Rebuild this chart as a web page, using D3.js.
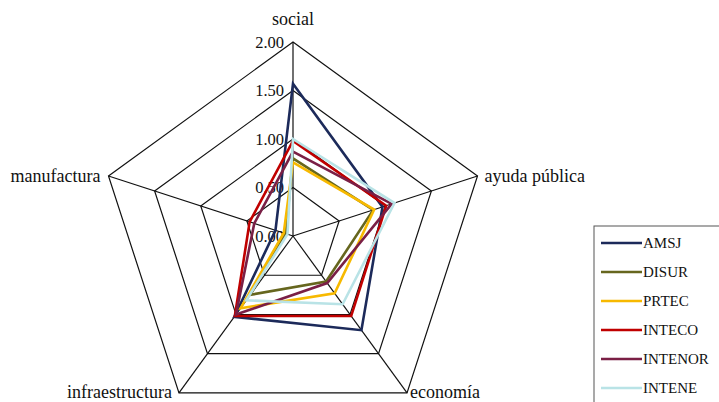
<!DOCTYPE html>
<html>
<head>
<meta charset="utf-8">
<script src="https://cdn.jsdelivr.net/npm/d3@7"></script>
<style>
  html, body { margin: 0; padding: 0; background: #fff; }
  svg { display: block; }
  svg text { font-family: "Liberation Serif", Tinos, "Times New Roman", "DejaVu Serif", serif; }
</style>
</head>
<body>
<svg id="chart" width="719" height="402"></svg>
<script>
// Radar axes, clockwise from the top
const axes = ["social", "ayuda pública", "economía", "infraestructura", "manufactura"];
const ticks = [0, 0.5, 1, 1.5, 2];
const tickLabels = ["0.00", "0.50", "1.00", "1.50", "2.00"];

// Series values per axis (same order as axes)
const seriesNames = ["AMSJ", "DISUR", "PRTEC", "INTECO", "INTENOR", "INTENE"];
const AMSJ    = [1.57, 0.97, 1.20, 1.03, 0.19];
const DISUR   = [0.80, 0.87, 0.58, 0.75, 0.08];
const PRTEC   = [0.76, 0.88, 0.73, 0.92, 0.10];
const INTECO  = [0.98, 1.01, 1.02, 1.02, 0.47];
const INTENOR = [0.87, 1.07, 0.60, 1.00, 0.42];
const INTENE  = [1.00, 1.10, 0.87, 0.82, 0.06];
const seriesValues = [AMSJ, DISUR, PRTEC, INTECO, INTENOR, INTENE];
const seriesColors = ["#1c2a5a", "#66661e", "#f7b900", "#c00000", "#7a1f45", "#b9e3e6"];

const svg = d3.select("#chart");
const cx = 293, cy = 236, R = 194;

const r = d3.scaleLinear().domain([0, 2]).range([0, R]);
const angle = d3.scaleLinear().domain([0, axes.length]).range([0, 2 * Math.PI]);

const g = svg.append("g").attr("transform", `translate(${cx},${cy})`);

const radial = d3.lineRadial()
  .angle((d, i) => angle(i))
  .radius(d => r(d))
  .curve(d3.curveLinearClosed);

// grid rings
g.append("g").selectAll("path")
  .data(ticks.filter(t => t > 0))
  .join("path")
  .attr("d", t => radial(axes.map(() => t)))
  .attr("fill", "none")
  .attr("stroke", "#111")
  .attr("stroke-width", 1.2);

// spokes
const pt = (i, v) => [Math.sin(angle(i)) * r(v), -Math.cos(angle(i)) * r(v)];
g.append("g").selectAll("line")
  .data(axes)
  .join("line")
  .attr("x1", 0).attr("y1", 0)
  .attr("x2", (d, i) => pt(i, 2)[0])
  .attr("y2", (d, i) => pt(i, 2)[1])
  .attr("stroke", "#111")
  .attr("stroke-width", 1.2);

// value labels along the top axis
g.append("g").selectAll("text")
  .data(ticks)
  .join("text")
  .attr("x", -9)
  .attr("y", t => -r(t))
  .attr("dy", "0.36em")
  .attr("text-anchor", "end")
  .attr("font-size", 16.5)
  .attr("fill", "#111")
  .text((t, i) => tickLabels[i]);

// series polygons
g.append("g").selectAll("path")
  .data(seriesValues)
  .join("path")
  .attr("d", v => radial(v))
  .attr("fill", "none")
  .attr("stroke", (v, i) => seriesColors[i])
  .attr("stroke-width", 2.6)
  .attr("stroke-linejoin", "miter");

// axis names
const labelPos = [
  { dx: 0, dy: -17, anchor: "middle" },
  { dx: 7, dy: 6, anchor: "start" },
  { dx: 3, dy: 5, anchor: "start" },
  { dx: -7, dy: 5, anchor: "end" },
  { dx: -8, dy: 6, anchor: "end" }
];
g.append("g").selectAll("text")
  .data(axes)
  .join("text")
  .attr("x", (d, i) => pt(i, 2)[0] + labelPos[i].dx)
  .attr("y", (d, i) => pt(i, 2)[1] + labelPos[i].dy)
  .attr("text-anchor", (d, i) => labelPos[i].anchor)
  .attr("font-size", 18)
  .attr("fill", "#111")
  .text(d => d);

// legend
const lg = svg.append("g").attr("transform", "translate(594,226)");
lg.append("rect")
  .attr("x", 0).attr("y", 0)
  .attr("width", 160).attr("height", 200)
  .attr("fill", "#fff")
  .attr("stroke", "#555")
  .attr("stroke-width", 1);
const rowY = d3.scaleLinear().domain([0, 1]).range([17, 46]);
const item = lg.selectAll("g.item")
  .data(seriesNames)
  .join("g")
  .attr("class", "item")
  .attr("transform", (d, i) => `translate(0,${rowY(i)})`);
item.append("line")
  .attr("x1", 7).attr("x2", 48)
  .attr("stroke", (d, i) => seriesColors[i])
  .attr("stroke-width", 2.6);
item.append("text")
  .attr("x", 49)
  .attr("dy", "0.35em")
  .attr("font-size", 15)
  .attr("fill", "#111")
  .text(d => d);
</script>
</body>
</html>
